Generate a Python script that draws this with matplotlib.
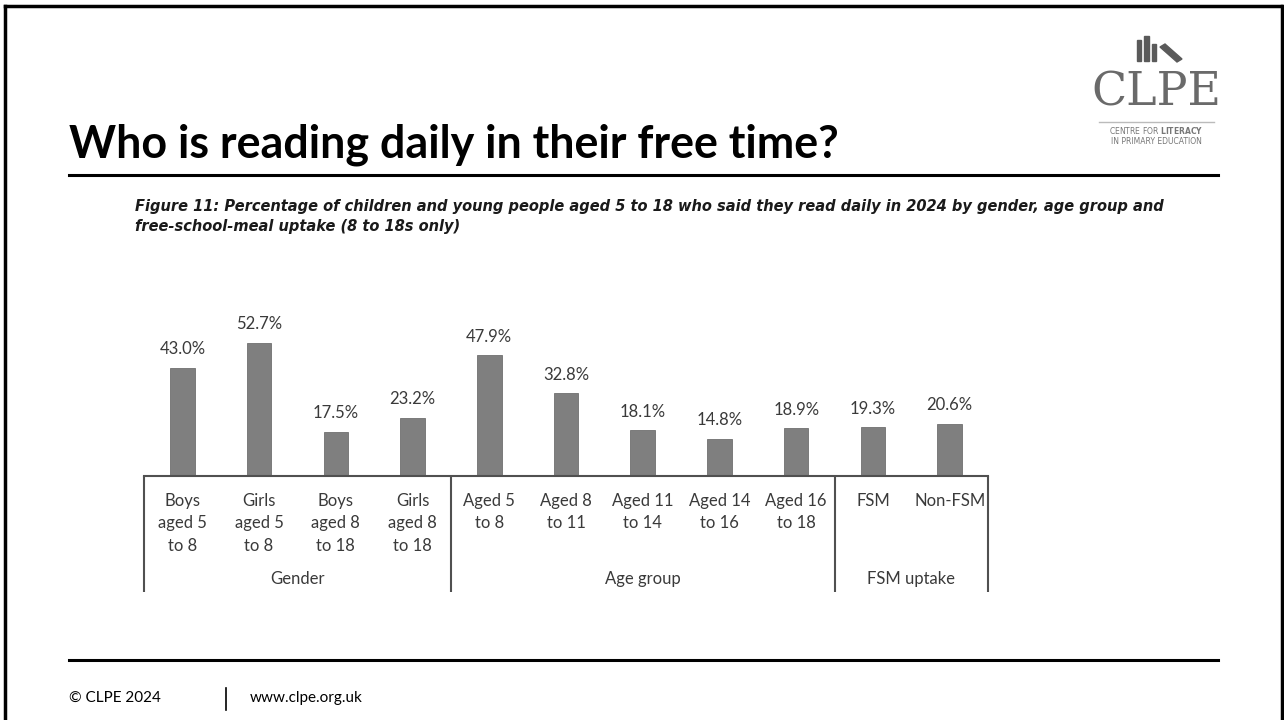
import matplotlib
matplotlib.use("Agg")
import matplotlib.pyplot as plt
from matplotlib.lines import Line2D
from matplotlib.patches import Rectangle, Polygon

# data
categories = ["Boys\naged 5\nto 8", "Girls\naged 5\nto 8", "Boys\naged 8\nto 18", "Girls\naged 8\nto 18",
              "Aged 5\nto 8", "Aged 8\nto 11", "Aged 11\nto 14", "Aged 14\nto 16", "Aged 16\nto 18",
              "FSM", "Non-FSM"]
values = [43.0, 52.7, 17.5, 23.2, 47.9, 32.8, 18.1, 14.8, 18.9, 19.3, 20.6]
groups = ["Gender", "Age group", "FSM uptake"]
group_sizes = [4, 5, 2]

W, H = 1284, 720

def fx(x):
    return x / W

def fy(y):
    return 1 - y / H

fig = plt.figure(figsize=(W / 100, H / 100), dpi=100)
fig.patch.set_facecolor("white")

# slide frame
for xs, ys in [([5, 1281], [6, 6]), ([5.5, 5.5], [6, 720]), ([1281.5, 1281.5], [6, 720])]:
    fig.add_artist(Line2D([fx(v) for v in xs], [fy(v) for v in ys], color="black", lw=2.5))

# title + rules
fig.text(fx(69), fy(157), "Who is reading daily in their free time?", fontsize=32.3,
         fontweight="bold", family="Lato", color="black", va="baseline")
fig.add_artist(Line2D([fx(69), fx(1218)], [fy(175), fy(175)], color="black", lw=2.2))
fig.add_artist(Line2D([fx(69), fx(1218)], [fy(660), fy(660)], color="black", lw=2.2))

# footer
fig.text(fx(69), fy(698), "\u00a9 CLPE 2024", fontsize=11, family="Lato", va="center")
fig.add_artist(Line2D([fx(226), fx(226)], [fy(688), fy(710)], color="black", lw=1.2))
fig.text(fx(250), fy(698), "www.clpe.org.uk", fontsize=11, family="Lato", va="center")

# logo
logo_grey = "#6a6a6a"
for x0, x1, top in [(1137, 1141, 40), (1144, 1149, 36), (1152, 1156, 44)]:
    fig.add_artist(Rectangle((fx(x0), fy(61)), fx(x1) - fx(x0), fy(top) - fy(61),
                             color="#5a5a5a", transform=fig.transFigure))
fig.add_artist(Polygon([(fx(1160), fy(47)), (fx(1165), fy(44)), (fx(1182), fy(59)), (fx(1177), fy(62))],
                       closed=True, color="#5a5a5a", transform=fig.transFigure))
fig.text(fx(1156), fy(106), "CLPE", fontsize=33, family="DejaVu Serif", color=logo_grey,
         ha="center", va="baseline")
fig.add_artist(Line2D([fx(1099), fx(1214)], [fy(122), fy(122)], color="#bbbbbb", lw=1.0))
fig.text(fx(1156), fy(131), "CENTRE FOR $\\bf{LITERACY}$", fontsize=5.5, family="DejaVu Sans",
         color="#777777", ha="center", va="center")
fig.text(fx(1156), fy(141), "IN PRIMARY EDUCATION", fontsize=5.5, family="DejaVu Sans",
         color="#777777", ha="center", va="center")

# caption
cap_kw = dict(fontsize=10.55, family="DejaVu Sans", fontweight="bold", style="italic",
              color="#1a1a1a", va="center")
fig.text(fx(135), fy(206), "Figure 11: Percentage of children and young people aged 5 to 18 who said they "
         "read daily in 2024 by gender, age group and", **cap_kw)
fig.text(fx(135), fy(227), "free-school-meal uptake (8 to 18s only)", **cap_kw)

# chart
ymax = 60
ax = fig.add_axes([fx(144), fy(476), fx(988) - fx(144), (ymax * 2.52) / H])
x = list(range(len(values)))
ax.bar(x, values, width=0.32, color="#7f7f7f", edgecolor="#707070", linewidth=0.6)
ax.set_xlim(-0.5, len(values) - 0.5)
ax.set_ylim(0, ymax)
for s in ["top", "left", "right"]:
    ax.spines[s].set_visible(False)
ax.spines["bottom"].set_color("#505050")
ax.spines["bottom"].set_linewidth(1.5)
ax.set_xticks([])
ax.set_yticks([])
ax.patch.set_alpha(0)

txt_col = "#3a3a3a"
for i, v in enumerate(values):
    ax.annotate(f"{v:.1f}%", (i, v), xytext=(0, 13.5), textcoords="offset points",
                ha="center", va="center", fontsize=12, family="Lato", color=txt_col)
    ax.annotate(categories[i], (i, 0), xytext=(0, -12), textcoords="offset points",
                ha="center", va="top", fontsize=12, family="Lato", color=txt_col, linespacing=1.5)

# group separators and labels
seps = [-0.5]
start = 0
for g, n in zip(groups, group_sizes):
    mid = start + (n - 1) / 2
    ax.annotate(g, (mid, 0), xytext=(0, -74), textcoords="offset points",
                ha="center", va="center", fontsize=12, family="Lato", color=txt_col)
    start += n
    seps.append(start - 0.5)
ax.vlines(seps, -116 / 2.52, 0, colors="#505050", linewidth=1.5, clip_on=False)

fig.savefig("out.png", dpi=100)
